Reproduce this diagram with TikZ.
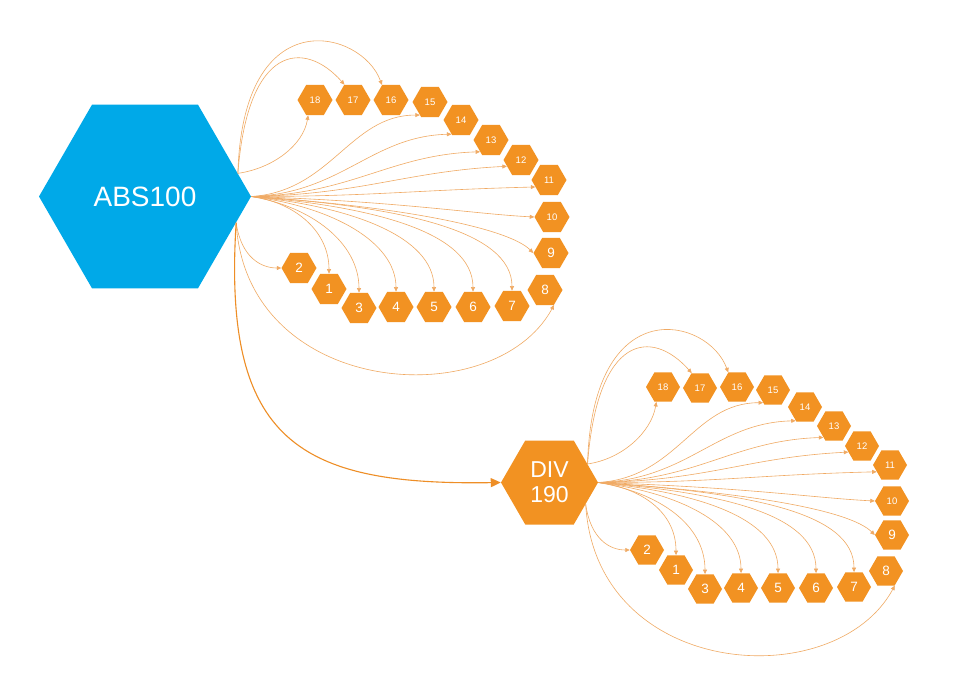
\documentclass[tikz,border=0pt]{standalone}
\usepackage{fontspec}
\setmainfont{Liberation Sans}
\usetikzlibrary{shapes.geometric,arrows.meta}
\definecolor{hexblue}{RGB}{0,169,232}
\definecolor{hexorange}{RGB}{242,146,34}
\definecolor{edgeorange}{RGB}{240,170,100}
\definecolor{mainedge}{RGB}{238,142,38}
\tikzset{
  hexbig/.style={regular polygon, regular polygon sides=6, inner sep=0pt, text=white, align=center},
  hexsmall/.style={regular polygon, regular polygon sides=6, inner sep=0pt, fill=hexorange, text=white, minimum size=35pt},
  hexsmallb/.style={hexsmall, minimum size=34pt},
  one/.style={font=\fontsize{13.5}{14}\selectfont},
  two/.style={font=\fontsize{9.5}{10}\selectfont},
  edge/.style={draw=edgeorange, line width=0.6pt, -{Triangle[length=4.5pt,width=4pt]}},
  mainlink/.style={draw=mainedge, line width=1.1pt, -{Triangle[length=10pt,width=9pt]}},
}
% #1 hub, #2 prefix, #3 upper start angle, #4 lower start angle
\newcommand\fanedges[4]{%
  \draw[edge] (#1.#3) .. controls +(35,5) and +(-5,-30) .. (#218.-114);
  \draw[edge] (#1.#3) .. controls +(10,130) and +(-40,45) .. (#217.119);
  \draw[edge] (#1.#3) .. controls +(5,175) and +(-20,55) .. (#216.121);
  \draw[edge] (#1.east) .. controls +(80,5) and +(-70,0) .. (#215.-128);
  \draw[edge] (#1.east) .. controls +(90,3) and +(-80,-2) .. (#214.-124);
  \draw[edge] (#1.east) .. controls +(100,2) and +(-90,-3) .. (#213.-133);
  \draw[edge] (#1.east) .. controls +(110,2) and +(-100,-5) .. (#212.-156);
  \draw[edge] (#1.east) .. controls +(120,0) and +(-120,-3) .. (#211.-153);
  \draw[edge] (#1.east) .. controls +(150,-5) and +(-60,3) .. (#210.180);
  \draw[edge] (#1.east) .. controls +(150,-10) and +(-25,25) .. (#29.180);
  \draw[edge] (#1.east) .. controls +(150,-10) and +(0,60) .. (#27.90);
  \draw[edge] (#1.east) .. controls +(120,-10) and +(0,60) .. (#26.90);
  \draw[edge] (#1.east) .. controls +(100,-10) and +(0,55) .. (#25.90);
  \draw[edge] (#1.east) .. controls +(80,-10) and +(0,50) .. (#24.90);
  \draw[edge] (#1.east) .. controls +(60,-10) and +(0,50) .. (#23.90);
  \draw[edge] (#1.east) .. controls +(40,-5) and +(0,45) .. (#21.90);
  \draw[edge] (#1.#4) .. controls +(5,-35) and +(-20,0) .. (#22.180);
  \draw[edge] (#1.#4) .. controls +(10,-175) and +(-60,-110) .. (#28.-59);
}
\begin{document}
\begin{tikzpicture}[x=1pt,y=1pt]
  \fill[white] (0,0) rectangle (971,-691);
  \useasboundingbox (0,0) rectangle (971,-691);

  \node[hexbig, fill=hexblue, minimum size=212pt, font=\fontsize{28}{30}\selectfont] (abs) at (145,-196.5) {ABS100};
  \node[hexbig, fill=hexorange, minimum size=97pt, font=\fontsize{23}{25}\selectfont] (div) at (549.5,-482.5) {DIV\\190};

  \foreach \n/\x/\y/\s in {18/315/-100/two, 17/353/-100/two, 16/391/-100/two, 15/430/-102/two,
      14/461/-120/two, 13/491/-140/two, 12/521/-160/two, 11/549/-180/two, 10/552/-217/two,
      9/551/-253/one, 8/545/-290/one, 7/512/-306/one, 6/473/-307/one, 5/434/-307/one,
      4/396/-307/one, 3/359/-308/one, 1/329/-289/one, 2/299/-268/one}
    \node[hexsmall, \s] (a\n) at (\x,\y) {\n};

  \foreach \n/\x/\y/\s in {18/663/-387/two, 17/700/-388/two, 16/737/-387/two, 15/773/-390/two,
      14/805/-407/two, 13/834/-426/two, 12/862/-446/two, 11/890/-465/two, 10/892/-501/two,
      9/892/-535/one, 8/886/-571/one, 7/854/-587/one, 6/816/-588/one, 5/778/-588/one,
      4/741/-588/one, 3/705/-589/one, 1/676/-570/one, 2/647/-550/one}
    \node[hexsmallb, \s] (b\n) at (\x,\y) {\n};

  \fanedges{abs}{a}{14}{-16}
  \fanedges{div}{b}{26}{-31}

  \draw[mainlink] (abs.-16) .. controls +(-14,-220) and +(-200,-3) .. (div.west);
\end{tikzpicture}
\end{document}
